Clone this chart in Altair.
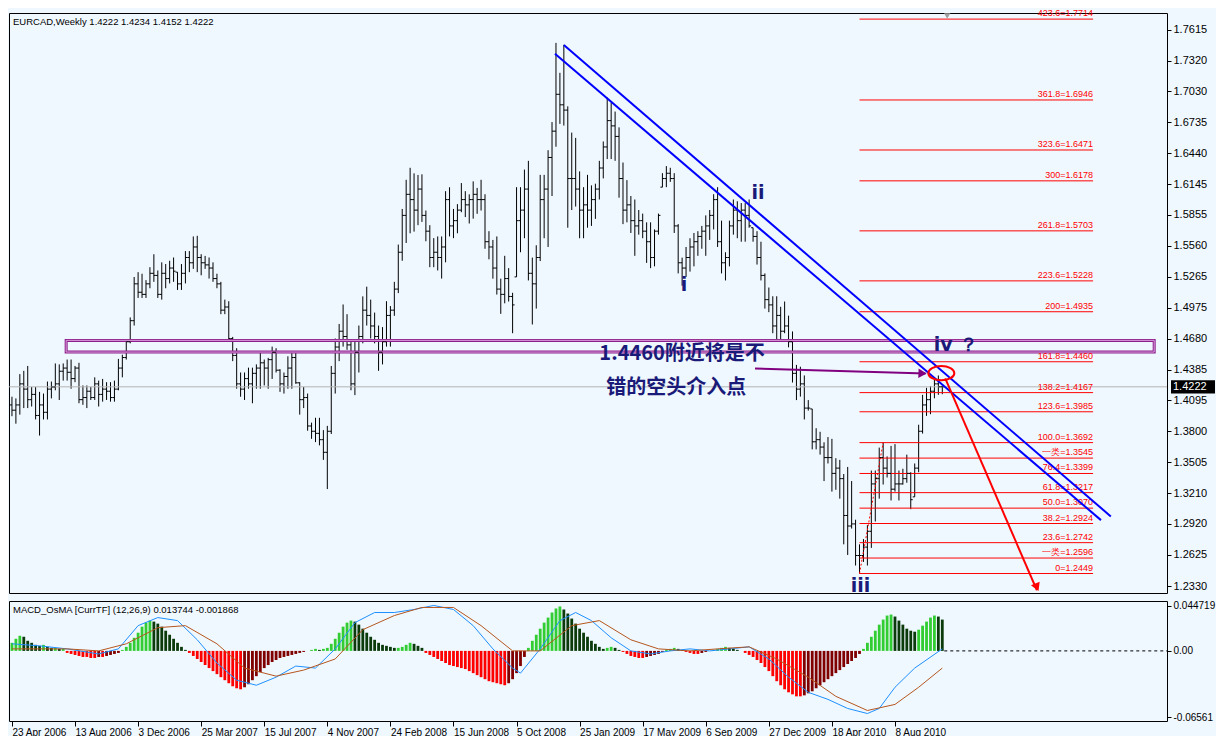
import json
import altair as alt
import pandas as pd
import numpy as np

# ---------------- data ----------------
tick_labels = ["23 Apr 2006", "13 Aug 2006", "3 Dec 2006", "25 Mar 2007", "15 Jul 2007",
               "4 Nov 2007", "24 Feb 2008", "15 Jun 2008", "5 Oct 2008", "25 Jan 2009",
               "17 May 2009", "6 Sep 2009", "27 Dec 2009", "18 Apr 2010", "8 Aug 2010"]

price_ticks = [1.7615, 1.7320, 1.7030, 1.6735, 1.6440, 1.6145, 1.5855, 1.5560, 1.5265, 1.4975,
               1.4680, 1.4385, 1.4095, 1.3800, 1.3505, 1.3210, 1.2920, 1.2625, 1.2330]

highs = [1.4128, 1.4112, 1.4343, 1.4374, 1.4420, 1.4220, 1.4220, 1.4174, 1.4158, 1.4272,
         1.4272, 1.4444, 1.4435, 1.4444, 1.4481, 1.4481, 1.4420, 1.4450, 1.4235, 1.4235,
         1.4220, 1.4312, 1.4281, 1.4297, 1.4266, 1.4266, 1.4281, 1.4487, 1.4527, 1.4666,
         1.4881, 1.5265, 1.5311, 1.5296, 1.5235, 1.5358, 1.5481, 1.5327, 1.5404, 1.5388,
         1.5419, 1.5450, 1.5311, 1.5388, 1.5511, 1.5511, 1.5650, 1.5656, 1.5481, 1.5465,
         1.5450, 1.5404, 1.5296, 1.5219, 1.5050, 1.5035, 1.4696, 1.4589, 1.4358, 1.4358,
         1.4404, 1.4404, 1.4435, 1.4558, 1.4481, 1.4497, 1.4604, 1.4589, 1.4389, 1.4358,
         1.4512, 1.4543, 1.4558, 1.4266, 1.4220, 1.4158, 1.3882, 1.3928, 1.3928, 1.3811,
         1.3851, 1.4420, 1.4681, 1.4819, 1.5004, 1.4912, 1.4666, 1.4666, 1.4804, 1.5081,
         1.5173, 1.5050, 1.4927, 1.4804, 1.4789, 1.5035, 1.4989, 1.5219, 1.5573, 1.5911,
         1.6188, 1.6302, 1.6249, 1.6234, 1.6240, 1.5896, 1.5757, 1.5634, 1.5650, 1.5650,
         1.6080, 1.6117, 1.5911, 1.5957, 1.6157, 1.6080, 1.6050, 1.6173, 1.6111, 1.6188,
         1.6051, 1.5700, 1.5617, 1.5650, 1.5249, 1.5466, 1.5349, 1.5115, 1.6118, 1.6118,
         1.6285, 1.6368, 1.5449, 1.5566, 1.6235, 1.6235, 1.6469, 1.6736, 1.7488, 1.7204,
         1.7470, 1.6886, 1.6636, 1.6586, 1.6268, 1.6118, 1.6235, 1.6135, 1.6151, 1.6368,
         1.6552, 1.6970, 1.6920, 1.6836, 1.6686, 1.6352, 1.6185, 1.6034, 1.6001, 1.5901,
         1.5867, 1.5784, 1.5784, 1.5717, 1.5867, 1.6251, 1.6318, 1.6302, 1.6251, 1.5767,
         1.5449, 1.5550, 1.5633, 1.5683, 1.5700, 1.5750, 1.5850, 1.5901, 1.6051, 1.6118,
         1.5800, 1.5500, 1.5800, 1.6001, 1.5984, 1.5967, 1.5967, 1.6001, 1.5733, 1.5700,
         1.5600, 1.5299, 1.5165, 1.5082, 1.5082, 1.4982, 1.5032, 1.4898, 1.4748, 1.4430,
         1.4413, 1.4330, 1.4096, 1.4012, 1.3829, 1.3795, 1.3695, 1.3745, 1.3728, 1.3544,
         1.3528, 1.3394, 1.3461, 1.3327, 1.2960, 1.2726, 1.2776, 1.2909, 1.3427, 1.3427,
         1.3645, 1.3692, 1.3561, 1.3661, 1.3678, 1.3427, 1.3444, 1.3578, 1.3411, 1.3494,
         1.3862, 1.4146, 1.4213, 1.4230, 1.4313, 1.4330, 1.4234]

lows = [1.3943, 1.3872, 1.3958, 1.4020, 1.4020, 1.4035, 1.3912, 1.3759, 1.3912, 1.3912,
        1.4112, 1.4189, 1.4097, 1.4281, 1.4281, 1.4204, 1.4266, 1.4066, 1.4051, 1.4020,
        1.4097, 1.4097, 1.4035, 1.4081, 1.4097, 1.4081, 1.4081, 1.4189, 1.4312, 1.4481,
        1.4635, 1.4804, 1.5066, 1.5066, 1.5066, 1.5158, 1.5219, 1.5066, 1.5050, 1.5158,
        1.5204, 1.5219, 1.5142, 1.5142, 1.5204, 1.5311, 1.5342, 1.5311, 1.5281, 1.5342,
        1.5250, 1.5219, 1.5158, 1.4912, 1.4912, 1.4666, 1.4466, 1.4204, 1.4128, 1.4097,
        1.4204, 1.4066, 1.4204, 1.4204, 1.4235, 1.4204, 1.4297, 1.4358, 1.4174, 1.4158,
        1.4204, 1.4204, 1.4251, 1.3958, 1.4020, 1.3805, 1.3728, 1.3697, 1.3666, 1.3528,
        1.3251, 1.3774, 1.4158, 1.4466, 1.4604, 1.4573, 1.4189, 1.4143, 1.4358, 1.4635,
        1.4804, 1.4681, 1.4635, 1.4374, 1.4435, 1.4604, 1.4604, 1.4896, 1.5112, 1.5419,
        1.5588, 1.5680, 1.5696, 1.5757, 1.5788, 1.5604, 1.5358, 1.5358, 1.5327, 1.5250,
        1.5404, 1.5650, 1.5634, 1.5680, 1.5880, 1.5834, 1.5773, 1.5819, 1.5865, 1.5896,
        1.5533, 1.5433, 1.5249, 1.5098, 1.4915, 1.5015, 1.5032, 1.4731, 1.5266, 1.5500,
        1.5633, 1.5232, 1.4814, 1.4965, 1.5416, 1.5633, 1.5550, 1.6034, 1.6502, 1.6719,
        1.6703, 1.5733, 1.5901, 1.5934, 1.5633, 1.5633, 1.5733, 1.5750, 1.5817, 1.6001,
        1.6201, 1.6385, 1.6385, 1.6368, 1.6018, 1.5767, 1.5784, 1.5683, 1.5466, 1.5667,
        1.5633, 1.5399, 1.5349, 1.5366, 1.5667, 1.6118, 1.6118, 1.6168, 1.5683, 1.5299,
        1.5182, 1.5266, 1.5316, 1.5366, 1.5466, 1.5533, 1.5466, 1.5617, 1.5717, 1.5550,
        1.5299, 1.5232, 1.5366, 1.5667, 1.5633, 1.5600, 1.5600, 1.5733, 1.5600, 1.5383,
        1.5232, 1.4965, 1.4931, 1.4731, 1.4664, 1.4664, 1.4731, 1.4597, 1.4263, 1.4096,
        1.4129, 1.3912, 1.3996, 1.3628, 1.3628, 1.3578, 1.3327, 1.3494, 1.3227, 1.3244,
        1.3160, 1.2726, 1.2625, 1.2876, 1.2525, 1.2449, 1.2559, 1.2525, 1.2692, 1.2943,
        1.3160, 1.3294, 1.3361, 1.3143, 1.3227, 1.3143, 1.3294, 1.3311, 1.3060, 1.3177,
        1.3411, 1.3778, 1.3946, 1.3962, 1.4113, 1.4146, 1.4152]

closes = [1.400, 1.405, 1.425, 1.420, 1.410, 1.415, 1.395, 1.405, 1.398, 1.420,
          1.422, 1.425, 1.437, 1.440, 1.436, 1.430, 1.440, 1.410, 1.412, 1.418,
          1.412, 1.425, 1.415, 1.420, 1.418, 1.412, 1.420, 1.440, 1.450, 1.465,
          1.485, 1.520, 1.512, 1.510, 1.520, 1.530, 1.528, 1.510, 1.530, 1.525,
          1.535, 1.532, 1.520, 1.530, 1.545, 1.540, 1.555, 1.545, 1.540, 1.538,
          1.535, 1.525, 1.520, 1.495, 1.498, 1.468, 1.452, 1.425, 1.420, 1.430,
          1.425, 1.435, 1.440, 1.445, 1.440, 1.448, 1.455, 1.438, 1.425, 1.432,
          1.440, 1.450, 1.426, 1.410, 1.412, 1.385, 1.380, 1.378, 1.372, 1.360,
          1.380, 1.435, 1.460, 1.475, 1.470, 1.462, 1.425, 1.455, 1.470, 1.495,
          1.490, 1.480, 1.470, 1.455, 1.465, 1.490, 1.495, 1.515, 1.550, 1.585,
          1.605, 1.600, 1.590, 1.610, 1.585, 1.570, 1.545, 1.550, 1.545, 1.555,
          1.600, 1.575, 1.580, 1.590, 1.600, 1.595, 1.600, 1.605, 1.600, 1.600,
          1.560, 1.555, 1.535, 1.515, 1.510, 1.525, 1.508, 1.500, 1.580, 1.590,
          1.610, 1.530, 1.520, 1.545, 1.600, 1.610, 1.640, 1.665, 1.700, 1.690,
          1.685, 1.620, 1.620, 1.610, 1.590, 1.595, 1.590, 1.600, 1.610, 1.630,
          1.650, 1.675, 1.670, 1.660, 1.620, 1.590, 1.595, 1.580, 1.575, 1.580,
          1.570, 1.560, 1.545, 1.570, 1.585, 1.620, 1.625, 1.620, 1.575, 1.540,
          1.535, 1.545, 1.555, 1.560, 1.565, 1.570, 1.575, 1.585, 1.600, 1.560,
          1.540, 1.545, 1.575, 1.590, 1.580, 1.590, 1.585, 1.575, 1.565, 1.545,
          1.528, 1.505, 1.500, 1.480, 1.490, 1.475, 1.480, 1.465, 1.435, 1.420,
          1.425, 1.402, 1.402, 1.370, 1.372, 1.365, 1.355, 1.355, 1.340, 1.345,
          1.335, 1.300, 1.290, 1.292, 1.262, 1.262, 1.270, 1.285, 1.330, 1.335,
          1.355, 1.345, 1.340, 1.325, 1.330, 1.330, 1.335, 1.340, 1.315, 1.345,
          1.380, 1.405, 1.410, 1.418, 1.425, 1.4222, 1.4222]
first_open = 1.405

# MACD_OsMA histogram (thousandths)
osma_milli = [8, 12, 15, 14, 10,
              8, 6, 5, 6, 4, 3, 3, 2, 2,
              -2, -3, -4, -5, -6, -6, -7, -7, -6, -6, -5, -4, -3, -2,
              1, 4, 8, 13, 18, 24, 28, 30, 29, 27, 24, 20, 16, 12, 8, 4, 1,
              -2, -5, -8, -11, -14, -17, -20, -23, -26, -29, -32, -35, -37, -38, -36, -33, -29, -25, -21, -17,
              -14, -11, -9, -7, -6, -5, -4, -3, -2, -1, 0, 1, 2, 1, 2,
              3, 7, 12, 18, 24, 28, 30, 29, 26, 22, 18, 14, 11, 8, 6,
              5, 4, 3, 3, 4, 6, 8, 7, 5, 3,
              -2, -4, -6, -8, -10, -12, -14, -15, -16, -17, -18, -20, -22, -24, -26, -28, -30, -31, -32, -33, -34, -32, -28, -22, -15,
              -6, 3, 10, 16, 22, 28, 33, 38, 42, 44, 41, 37, 32, 27, 22, 18, 14, 10, 7, 4,
              2, 3, 4, 3, 1, -1, -3, -5, -6, -7, -7, -6, -5, -4, -3, -1, 1, 2, 3, 2,
              1, -1, -2, -3, -3, -2, -1, 0, 1, 2, 3, 4, 3, 2, 1, 0, -2, -4, -6, -9,
              -12, -16, -20, -25, -30, -34, -38, -41, -43, -45, -45, -44, -42, -40, -37, -34, -31, -28, -25, -22, -19, -16, -13, -10, -7,
              -3, 2, 8, 14, 20, 26, 31, 35, 36, 34, 30, 26, 22, 20, 19, 21, 25, 29, 33, 35, 34, 31]

blue_bar = [0, 7, 14, 22, 27, 32, 37, 42, 47, 52, 57, 62, 67, 72, 77, 82, 87, 92, 97, 102, 107, 112,
            117, 122, 127, 129, 134, 139, 143, 147, 152, 157, 162, 167, 172, 177, 182, 187, 192, 197,
            202, 207, 212, 217, 220, 224, 229, 236]
blue_val = [0.007, 0.005, 0.002, -0.003, 0.002, 0.025, 0.033, 0.030, 0.011, -0.012, -0.029, -0.034,
            -0.026, -0.015, -0.017, 0.002, 0.028, 0.038, 0.038, 0.041, 0.045, 0.041, 0.025, 0.002,
            -0.017, -0.022, 0.002, 0.030, 0.038, 0.030, 0.013, 0.000, -0.003, 0.000, 0.002, 0.000,
            0.002, 0.004, -0.008, -0.026, -0.041, -0.048, -0.057, -0.062, -0.057, -0.036, -0.017, 0.002]
brown_bar = [0, 7, 14, 22, 29, 37, 44, 52, 59, 67, 74, 82, 89, 97, 104, 112, 119, 127, 134, 142,
             149, 157, 164, 172, 179, 187, 194, 202, 209, 217, 224, 230, 236]
brown_val = [0.002, 0.002, 0.002, 0.000, 0.007, 0.023, 0.025, 0.007, -0.017, -0.025, -0.019, -0.008,
             0.021, 0.035, 0.043, 0.043, 0.025, 0.000, 0.000, 0.025, 0.030, 0.011, 0.002, 0.000, 0.002,
             0.004, -0.008, -0.026, -0.045, -0.059, -0.053, -0.036, -0.017]

fib_labels = ["423.6=1.7714", "361.8=1.6946", "323.6=1.6471", "300=1.6178", "261.8=1.5703",
              "223.6=1.5228", "200=1.4935", "161.8=1.4460", "138.2=1.4167", "123.6=1.3985",
              "100.0=1.3692", "一类=1.3545", "76.4=1.3399", "61.8=1.3217", "50.0=1.3070",
              "38.2=1.2924", "23.6=1.2742", "一类=1.2596", "0=1.2449"]
fib_prices = [1.7714, 1.6946, 1.6471, 1.6178, 1.5703, 1.5228, 1.4935, 1.4460, 1.4167, 1.3985,
              1.3692, 1.3545, 1.3399, 1.3217, 1.3070, 1.2924, 1.2742, 1.2596, 1.2449]

# annotation geometry (bar index, price)
fib_from, fib_to = 215, 274.25
chan_upper = [(140, 1.7467), (278.75, 1.2991)]
chan_lower = [(137.75, 1.7384), (276.25, 1.2956)]
box_bars = (13.75, 289.75)
box_prices = (1.4663, 1.4552)
purple_arrow = [(188.5, 1.4395), (231.75, 1.4349)]
red_arrow = [(236.75, 1.4303), (260.0, 1.2290)]
ellipse_pt = (235.75, 1.4352)
wave_labels = [("ii", 189.25, 1.6065), ("i", 170.5, 1.5189), ("iii", 215.25, 1.2335), ("iv ？", 239.5, 1.4617)]
note_lines = [("1.4460附近将是不", 170.0, 1.4534), ("错的空头介入点", 168.5, 1.4211)]
last_price = 1.4222
header = "EURCAD,Weekly  1.4222 1.4234 1.4152 1.4222"
macd_header = "MACD_OsMA [CurrTF] (12,26,9) 0.013744 -0.001868"

# ---------------- build ----------------
assert len(highs) == len(lows) == len(closes) == len(osma_milli) == 237
n = len(highs)
opens = [first_open] + closes[:-1]
opens = [min(max(o, l), h) for o, l, h in zip(opens, lows, highs)]
bars = pd.DataFrame({"i": np.arange(n), "open": opens, "high": highs, "low": lows, "close": closes})

W, H1, H2 = 1158, 580, 120
BG = "#F0F8FF"
FONT = "Liberation Sans"
FS = 9.5
AFS = 11
xs = alt.Scale(domain=[-0.75, 293], nice=False, zero=False)
ys = alt.Scale(domain=[1.2264, 1.7772], nice=False, zero=False)
ms = alt.Scale(domain=[-0.0694, 0.0494], nice=False, zero=False)

yaxis = alt.Axis(orient="right", values=price_ticks, format=".4f", tickSize=4, grid=False,
                 domain=False, title=None, labelPadding=2, labelFontSize=AFS, labelFont=FONT)
label_expr = "%s[round(datum.value/16)]" % json.dumps(tick_labels, ensure_ascii=False)
xaxis = alt.Axis(orient="bottom", values=list(range(0, 16 * len(tick_labels), 16)), labelExpr=label_expr,
                 labelAlign="left", labelPadding=1, tickSize=5, grid=False, domain=False, title=None,
                 labelFontSize=10, labelFont=FONT, labelFlush=False, labelOverlap=False)
maxis = alt.Axis(orient="right", values=[0.044719, 0.0, -0.06561], tickSize=4, grid=False, domain=False,
                 title=None, labelExpr="datum.value == 0 ? '0.00' : (datum.value > 0 ? '0.044719' : '-0.06561')",
                 labelFontSize=10, labelFont=FONT, labelPadding=2)


def X(f):
    return alt.X(f, scale=xs, axis=None)


def MX(f):
    return alt.X(f, scale=xs, axis=xaxis)


def Y(f):
    return alt.Y(f, scale=ys, axis=yaxis)


def MY(f):
    return alt.Y(f, scale=ms, axis=maxis)


base = alt.Chart(bars)
hl = base.mark_rule(color="black", strokeWidth=1).encode(x=X("i:Q"), y=Y("low:Q"), y2="high:Q")
op = base.transform_calculate(xl="datum.i - 0.5").mark_rule(color="black", strokeWidth=1).encode(
    x=X("xl:Q"), x2="i:Q", y=Y("open:Q"), y2="open:Q")
cl = base.transform_calculate(xr="datum.i + 0.5").mark_rule(color="black", strokeWidth=1).encode(
    x=X("i:Q"), x2="xr:Q", y=Y("close:Q"), y2="close:Q")

cur_line = alt.Chart(pd.DataFrame({"p": [last_price]})).mark_rule(color="#B4B4B4", strokeWidth=1).encode(y=Y("p:Q"))

fib_df = pd.DataFrame({"lab": fib_labels, "p": fib_prices, "x0": fib_from, "x1": fib_to})
fib_lines = alt.Chart(fib_df).mark_rule(color="#FF0000", strokeWidth=1).encode(
    x=X("x0:Q"), x2="x1:Q", y=Y("p:Q"), y2="p:Q")
fib_text = alt.Chart(fib_df).mark_text(align="right", baseline="bottom", dy=-1, color="#FF0000",
                                       fontSize=9, font=FONT).encode(x=X("x1:Q"), y=Y("p:Q"), text="lab:N")
fib_trend = alt.Chart(pd.DataFrame({"x0": [215], "x1": [221], "p0": [lows[215]], "p1": [1.3692]})).mark_rule(
    color="#FF0000", strokeDash=[2, 2], strokeWidth=1).encode(x=X("x0:Q"), x2="x1:Q", y=Y("p0:Q"), y2="p1:Q")


def seg(pts, color, width):
    d = pd.DataFrame({"x0": [pts[0][0]], "x1": [pts[1][0]], "p0": [pts[0][1]], "p1": [pts[1][1]]})
    return alt.Chart(d).mark_rule(color=color, strokeWidth=width).encode(
        x=X("x0:Q"), x2="x1:Q", y=Y("p0:Q"), y2="p1:Q")


chan1 = seg(chan_upper, "#0000FF", 2)
chan2 = seg(chan_lower, "#0000FF", 2)

box_df = pd.DataFrame({"x0": [box_bars[0]], "x1": [box_bars[1]], "p0": [box_prices[0]], "p1": [box_prices[1]]})
box = alt.Chart(box_df).mark_rect(fill="white", fillOpacity=0, stroke="#8E1F8E", strokeWidth=3).encode(
    x=X("x0:Q"), x2="x1:Q", y=Y("p0:Q"), y2="p1:Q")
box_in = alt.Chart(box_df).mark_rect(fill="white", fillOpacity=0, stroke="#D9A0D9", strokeWidth=1).encode(
    x=X("x0:Q"), x2="x1:Q", y=Y("p0:Q"), y2="p1:Q")

parr = seg(purple_arrow, "#800080", 2)
parr_head = alt.Chart(pd.DataFrame({"x": [purple_arrow[1][0]], "p": [purple_arrow[1][1]]})).mark_point(
    shape="triangle-right", filled=True, color="#800080", size=90, opacity=1, angle=2, xOffset=-3).encode(
    x=X("x:Q"), y=Y("p:Q"))
rarr = seg(red_arrow, "#FF0000", 2)
rarr_head = alt.Chart(pd.DataFrame({"x": [red_arrow[1][0]], "p": [red_arrow[1][1]]})).mark_point(
    shape="triangle-down", filled=True, color="#FF0000", size=90, opacity=1, angle=337, yOffset=-3).encode(
    x=X("x:Q"), y=Y("p:Q"))

ellipse = alt.Chart(pd.DataFrame({"x": [ellipse_pt[0]], "p": [ellipse_pt[1]]})).mark_point(
    shape="M-1,0A1,0.55,0,1,1,1,0A1,0.55,0,1,1,-1,0Z", size=26 * 26, filled=False, stroke="#FF0000",
    strokeWidth=2, opacity=1).encode(x=X("x:Q"), y=Y("p:Q"))

wl_df = pd.DataFrame(wave_labels, columns=["t", "x", "p"])
waves = alt.Chart(wl_df).mark_text(fontSize=19, fontWeight="bold", color="#1A1A78", font="DejaVu Sans").encode(
    x=X("x:Q"), y=Y("p:Q"), text="t:N")
nt_df = pd.DataFrame(note_lines, columns=["t", "x", "p"])
notes = alt.Chart(nt_df).mark_text(fontSize=20, fontWeight="bold", color="#1A1A78", font="Noto Sans CJK SC").encode(
    x=X("x:Q"), y=Y("p:Q"), text="t:N")

hdr = alt.Chart(pd.DataFrame({"t": [header]})).mark_text(align="left", baseline="top", fontSize=FS, font=FONT,
                                                         color="black").encode(x=alt.value(4), y=alt.value(4), text="t:N")
marker = alt.Chart(pd.DataFrame({"x": [237.25]})).mark_point(shape="triangle-down", filled=True, color="#A0A0A0",
                                                             size=40, opacity=1).encode(x=X("x:Q"), y=alt.value(3))

pbox = alt.Chart(pd.DataFrame({"p": [last_price]})).mark_point(
    shape="M-1,-0.3L1,-0.3L1,0.3L-1,0.3Z", size=44 * 44, filled=True, color="black", opacity=1).encode(
    x=alt.value(W + 26), y=Y("p:Q"))
ptxt = alt.Chart(pd.DataFrame({"p": [last_price], "t": ["1.4222"]})).mark_text(
    align="left", color="white", fontSize=AFS, font=FONT).encode(x=alt.value(W + 6), y=Y("p:Q"), text="t:N")

main = alt.layer(hl, cur_line, box, box_in, fib_lines, fib_trend, fib_text, op, cl, chan1, chan2,
                 parr, parr_head, rarr, rarr_head, ellipse, waves, notes, hdr, marker, pbox, ptxt).properties(
    width=W, height=H1)

# ---------------- MACD panel ----------------
osma = [v / 1000 for v in osma_milli]
prev = [osma[0]] + osma[:-1]
cols = []
for v, pv in zip(osma, prev):
    if v >= 0:
        cols.append("#32CD32" if v >= pv else "#0B3B0B")
    else:
        cols.append("#FF0000" if v <= pv else "#800000")
mdf = pd.DataFrame({"i": np.arange(n), "v": osma, "c": cols, "z": 0.0})

hist = alt.Chart(mdf).mark_rule(strokeWidth=2.8).encode(
    x=MX("i:Q"), y=MY("v:Q"), y2="z:Q", color=alt.Color("c:N", scale=None))
bline = alt.Chart(pd.DataFrame({"i": blue_bar, "v": blue_val})).mark_line(color="#1E90FF", strokeWidth=1).encode(
    x=MX("i:Q"), y=MY("v:Q"))
rline = alt.Chart(pd.DataFrame({"i": brown_bar, "v": brown_val})).mark_line(color="#B5561E", strokeWidth=1).encode(
    x=MX("i:Q"), y=MY("v:Q"))
zline = alt.Chart(pd.DataFrame({"x0": [236.5], "x1": [293], "z": [0.0]})).mark_rule(
    color="black", strokeDash=[3, 3], strokeWidth=1).encode(x=MX("x0:Q"), x2="x1:Q", y=MY("z:Q"), y2="z:Q")
mhdr = alt.Chart(pd.DataFrame({"t": [macd_header]})).mark_text(align="left", baseline="top", fontSize=FS,
                                                               font=FONT, color="black").encode(
    x=alt.value(4), y=alt.value(4), text="t:N")
macd = alt.layer(hist, zline, bline, rline, mhdr).properties(width=W, height=H2)

chart = alt.vconcat(main, macd, spacing=3).properties(background=BG, padding=0).configure_view(
    stroke="black", strokeWidth=1).configure_axis(labelColor="black", tickColor="black")

chart.save("out.html", embed_options={"renderer": "svg", "actions": False})
